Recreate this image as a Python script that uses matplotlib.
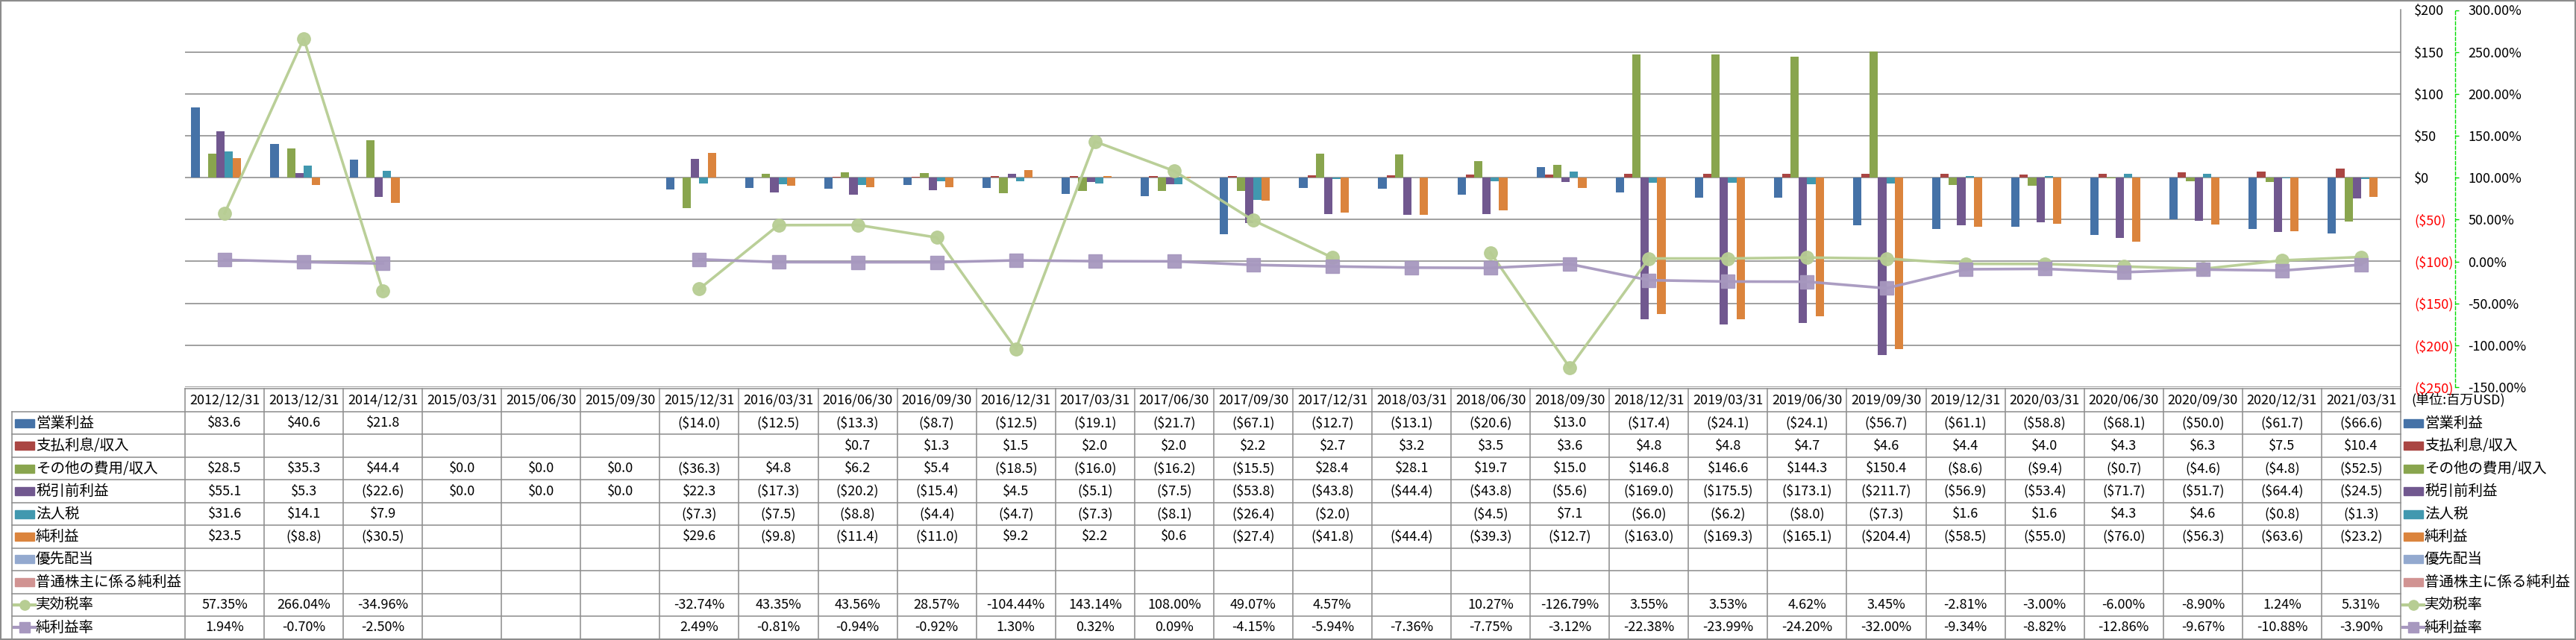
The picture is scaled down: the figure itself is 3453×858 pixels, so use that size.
import numpy as np
import matplotlib
matplotlib.use('Agg')  # no display
import matplotlib.pyplot as plt
from matplotlib.patches import Rectangle
from matplotlib.lines import Line2D
from matplotlib.ticker import FixedLocator

plt.rcParams['font.family'] = ['Noto Sans CJK JP', 'DejaVu Sans']

nan = np.nan

# ---- data (百万USD / %) ----
dates = ['2012/12/31', '2013/12/31', '2014/12/31', '2015/03/31', '2015/06/30', '2015/09/30',
         '2015/12/31', '2016/03/31', '2016/06/30', '2016/09/30', '2016/12/31', '2017/03/31',
         '2017/06/30', '2017/09/30', '2017/12/31', '2018/03/31', '2018/06/30', '2018/09/30',
         '2018/12/31', '2019/03/31', '2019/06/30', '2019/09/30', '2019/12/31', '2020/03/31',
         '2020/06/30', '2020/09/30', '2020/12/31', '2021/03/31']

operating_income = [83.6, 40.6, 21.8, nan, nan, nan, -14.0, -12.5, -13.3, -8.7, -12.5, -19.1,
                    -21.7, -67.1, -12.7, -13.1, -20.6, 13.0, -17.4, -24.1, -24.1, -56.7,
                    -61.1, -58.8, -68.1, -50.0, -61.7, -66.6]
interest = [nan, nan, nan, nan, nan, nan, nan, nan, 0.7, 1.3, 1.5, 2.0,
            2.0, 2.2, 2.7, 3.2, 3.5, 3.6, 4.8, 4.8, 4.7, 4.6,
            4.4, 4.0, 4.3, 6.3, 7.5, 10.4]
other_expense = [28.5, 35.3, 44.4, 0.0, 0.0, 0.0, -36.3, 4.8, 6.2, 5.4, -18.5, -16.0,
                 -16.2, -15.5, 28.4, 28.1, 19.7, 15.0, 146.8, 146.6, 144.3, 150.4,
                 -8.6, -9.4, -0.7, -4.6, -4.8, -52.5]
pretax_income = [55.1, 5.3, -22.6, 0.0, 0.0, 0.0, 22.3, -17.3, -20.2, -15.4, 4.5, -5.1,
                 -7.5, -53.8, -43.8, -44.4, -43.8, -5.6, -169.0, -175.5, -173.1, -211.7,
                 -56.9, -53.4, -71.7, -51.7, -64.4, -24.5]
income_tax = [31.6, 14.1, 7.9, nan, nan, nan, -7.3, -7.5, -8.8, -4.4, -4.7, -7.3,
              -8.1, -26.4, -2.0, nan, -4.5, 7.1, -6.0, -6.2, -8.0, -7.3,
              1.6, 1.6, 4.3, 4.6, -0.8, -1.3]
net_income = [23.5, -8.8, -30.5, nan, nan, nan, 29.6, -9.8, -11.4, -11.0, 9.2, 2.2,
              0.6, -27.4, -41.8, -44.4, -39.3, -12.7, -163.0, -169.3, -165.1, -204.4,
              -58.5, -55.0, -76.0, -56.3, -63.6, -23.2]
preferred_div = [nan] * len(dates)
common_net_income = [nan] * len(dates)

tax_rate = [57.35, 266.04, -34.96, nan, nan, nan, -32.74, 43.35, 43.56, 28.57, -104.44, 143.14,
            108.00, 49.07, 4.57, nan, 10.27, -126.79, 3.55, 3.53, 4.62, 3.45,
            -2.81, -3.00, -6.00, -8.90, 1.24, 5.31]
net_margin = [1.94, -0.70, -2.50, nan, nan, nan, 2.49, -0.81, -0.94, -0.92, 1.30, 0.32,
              0.09, -4.15, -5.94, -7.36, -7.75, -3.12, -22.38, -23.99, -24.20, -32.00,
              -9.34, -8.82, -12.86, -9.67, -10.88, -3.90]

bar_names = ['営業利益', '支払利息/収入', 'その他の費用/収入', '税引前利益', '法人税', '純利益',
             '優先配当', '普通株主に係る純利益']
bar_series = [operating_income, interest, other_expense, pretax_income, income_tax, net_income,
              preferred_div, common_net_income]
bar_colors = ['#4572A7', '#AA4643', '#89A54E', '#71588F', '#4198AF', '#DB843D', '#93A9CF', '#D19392']

line_names = ['実効税率', '純利益率']
line_series = [tax_rate, net_margin]
line_colors = ['#B7CD93', '#A798BF']
line_markers = ['o', 's']

money_ticks = list(range(-250, 201, 50))
pct_ticks = list(range(-150, 301, 50))


def fmt_money(v):
    if np.isnan(v):
        return ''
    return '$%.1f' % v if v >= 0 else '($%.1f)' % -v


def fmt_pct(v):
    return '' if np.isnan(v) else '%.2f%%' % v


# ---- figure layout (pixels) ----
W, H = 3453, 858
fig = plt.figure(figsize=(W / 100, H / 100), dpi=100)
PL, PR, PT, PB = 248, 3218, 13.5, 519

# overlay axes in pixel units for the data table and border
ov = fig.add_axes([0, 0, 1, 1], zorder=-1)
ov.set_xlim(0, W)
ov.set_ylim(H, 0)
ov.axis('off')

ax = fig.add_axes([PL / W, 1 - PB / H, (PR - PL) / W, (PB - PT) / H])
ax2 = ax.twinx()

n = len(dates)
x = np.arange(n)
bw = 1 / 9.5  # 8 bars + 150% gap

for i, (vals, col) in enumerate(zip(bar_series, bar_colors)):
    ax.bar(x + (i - 3.5) * bw, vals, width=bw, color=col, zorder=2)

ax.set_xlim(-0.5, n - 0.5)
ax.set_ylim(-250, 200)
ax.set_xticks([])
ax.yaxis.set_major_locator(FixedLocator(money_ticks))
ax.set_yticklabels(['$%d' % t if t >= 0 else '($%d)' % -t for t in money_ticks])
ax.yaxis.tick_right()
ax.tick_params(axis='y', length=0, pad=13, labelsize=13)
for lbl, t in zip(ax.get_yticklabels(), money_ticks):
    lbl.set_color('red' if t < 0 else 'black')
ax.grid(axis='y', color='#868686', lw=1.1)
ax.set_axisbelow(True)
for s in ['left', 'top', 'bottom']:
    ax.spines[s].set_visible(False)
ax.spines['right'].set_color('#868686')
ax.spines['right'].set_linewidth(1.1)

# secondary axis: rates
for vals, col, mk in zip(line_series, line_colors, line_markers):
    ax2.plot(x, vals, color=col, lw=2.6, marker=mk, ms=12.5, mfc=col, mec=col, alpha=0.95)
ax2.set_ylim(-150, 300)
ax2.yaxis.set_major_locator(FixedLocator(pct_ticks))
ax2.set_yticklabels(['%.2f%%' % t for t in pct_ticks])
ax2.tick_params(axis='y', length=3.5, width=1, color='#00DD00', pad=9, labelsize=13)
for lbl, t in zip(ax2.get_yticklabels(), pct_ticks):
    lbl.set_color('red' if t < 0 else 'black')
for s in ['left', 'top', 'bottom']:
    ax2.spines[s].set_visible(False)
ax2.spines['right'].set_position(('outward', 73 * 0.72))
ax2.spines['right'].set_color('#00DD00')
ax2.spines['right'].set_linestyle((0, (3, 2)))
ax2.spines['right'].set_linewidth(1)

# ---- data table ----
grid_c = '#8C8C8C'
tbl_top, hdr_bot, tbl_bot = 521, 552, 856.5
row_h = (tbl_bot - hdr_bot) / 10
col_w = (PR - PL) / n
LBL_L = 16


def hline(y, x0, x1):
    ov.add_line(Line2D([x0, x1], [y, y], color=grid_c, lw=1.1))


def vline(xp, y0, y1):
    ov.add_line(Line2D([xp, xp], [y0, y1], color=grid_c, lw=1.1))


hline(tbl_top, PL, PR)
for r in range(11):
    hline(hdr_bot + r * row_h, LBL_L, PR)
vline(LBL_L, hdr_bot, tbl_bot)
for c in range(n + 1):
    vline(PL + c * col_w, tbl_top, tbl_bot)

for c, d in enumerate(dates):
    ov.text(PL + (c + 0.5) * col_w, (tbl_top + hdr_bot) / 2, d, ha='center', va='center', fontsize=13)

ov.text(3232, (tbl_top + hdr_bot) / 2, '(単位:百万USD)', ha='left', va='center', fontsize=13)

rows = [(nm, 'bar', vals, col, None) for nm, vals, col in zip(bar_names, bar_series, bar_colors)]
rows += [(nm, 'line', vals, col, mk) for nm, vals, col, mk in zip(line_names, line_series, line_colors, line_markers)]


def legend_key(x0, cy, kind, col, mk):
    if kind == 'bar':
        ov.add_patch(Rectangle((x0, cy - 5.5), 26, 11, color=col))
    else:
        ov.add_line(Line2D([x0 - 1, x0 + 27], [cy, cy], color=col, lw=3))
        ov.plot([x0 + 13], [cy], marker=mk, ms=9.5, color=col)


for r, (nm, kind, vals, col, mk) in enumerate(rows):
    cy = hdr_bot + (r + 0.5) * row_h
    legend_key(20, cy, kind, col, mk)
    ov.text(48, cy, nm, ha='left', va='center', fontsize=14)
    legend_key(3222, cy, kind, col, mk)
    ov.text(3250, cy, nm, ha='left', va='center', fontsize=14)
    fmt = fmt_money if kind == 'bar' else fmt_pct
    for c, v in enumerate(vals):
        s = fmt(v)
        if s:
            ov.text(PL + (c + 0.5) * col_w, cy, s, ha='center', va='center', fontsize=13)

# outer border
ov.add_patch(Rectangle((0.75, 0.75), W - 1.5, H - 1.5, fill=False, ec=grid_c, lw=1.5))

fig.savefig('out.png', dpi=100)
plt.close(fig)
